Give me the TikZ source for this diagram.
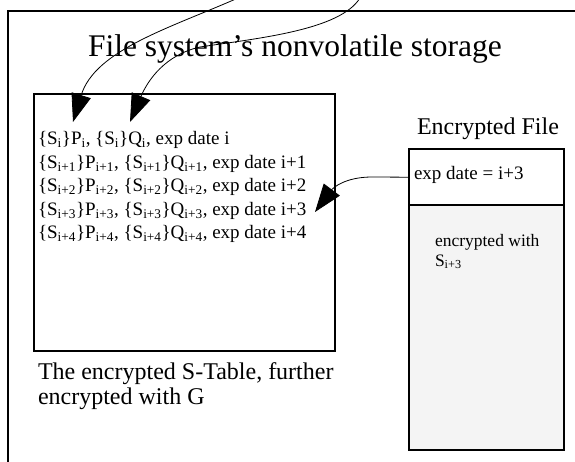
\documentclass[tikz,border=0pt]{standalone}
\usepackage{fontspec}
\setmainfont{Liberation Serif}
\usetikzlibrary{arrows.meta}
\tikzset{
  frame/.style={draw, line width=2pt},
  boxframe/.style={draw, line width=2.4pt, inner sep=0pt},
  lbl/.style={inner sep=0pt, outer sep=0pt},
  big/.style={font=\fontsize{24}{27}\selectfont},
  small/.style={font=\fontsize{19}{23}\selectfont},
  tiny/.style={font=\fontsize{17.5}{20}\selectfont},
  curvy/.style={line width=0.8pt, -{Triangle[length=28pt,width=20pt]}},
}
\definecolor{bodygray}{HTML}{F4F4F4}
\begin{document}
\begin{tikzpicture}[x=1pt,y=-1pt]
\useasboundingbox (0,0) rectangle (575,462);
\clip (0,0) rectangle (575,462);
\fill[white] (0,0) rectangle (575,462);
% outer storage frame
\draw[frame] (8,11) rectangle (600,490);
\node[lbl, font=\fontsize{31.5}{36}\selectfont, anchor=base] (title) at (295,57) {File system’s nonvolatile storage};
% S-table box
\node[boxframe, minimum width=301pt, minimum height=257pt, anchor=north west] (stable) at (33,93) {};
\node[lbl, small, anchor=base west] (t1) at (38,145) {\{S\textsubscript{i}\}P\textsubscript{i}, \{S\textsubscript{i}\}Q\textsubscript{i}, exp date i};
\node[lbl, small, anchor=base west] (t2) at (38,168.5) {\{S\textsubscript{i+1}\}P\textsubscript{i+1}, \{S\textsubscript{i+1}\}Q\textsubscript{i+1}, exp date i+1};
\node[lbl, small, anchor=base west] (t3) at (38,192) {\{S\textsubscript{i+2}\}P\textsubscript{i+2}, \{S\textsubscript{i+2}\}Q\textsubscript{i+2}, exp date i+2};
\node[lbl, small, anchor=base west] (t4) at (38,215.5) {\{S\textsubscript{i+3}\}P\textsubscript{i+3}, \{S\textsubscript{i+3}\}Q\textsubscript{i+3}, exp date i+3};
\node[lbl, small, anchor=base west] (t5) at (38,239) {\{S\textsubscript{i+4}\}P\textsubscript{i+4}, \{S\textsubscript{i+4}\}Q\textsubscript{i+4}, exp date i+4};
\node[lbl, big, anchor=base west] (cap1) at (38,379) {The encrypted S-Table, further};
\node[lbl, big, anchor=base west] (cap2) at (38,404) {encrypted with G};
% encrypted file
\node[lbl, big, anchor=base west] (eftitle) at (417,135) {Encrypted File};
\node[boxframe, fill=bodygray, minimum width=155pt, minimum height=245pt, anchor=north west] (efbody) at (408,204) {};
\node[boxframe, fill=white, minimum width=155pt, minimum height=56pt, anchor=north west] (efhead) at (408,148) {};
\node[lbl, small, anchor=base west] (expd) at (414,180) {exp date = i+3};
\node[lbl, tiny, anchor=base west] (encw1) at (435,247) {encrypted with};
\node[lbl, tiny, anchor=base west] (encw2) at (435,266) {S\textsubscript{i+3}};
% connectors
\coordinate (srcA) at (238,-2);
\coordinate (srcB) at (360,-2);
\coordinate (tipP) at (73,122);
\coordinate (tipQ) at (130,122);
\coordinate (tipR) at (315,212);
\draw[curvy] (srcA) .. controls (170,28) and (95,50) .. (tipP);
\draw[curvy] (srcB) .. controls (340,30) and (260,38) .. (200,47) .. controls (165,55) and (148,80) .. (tipQ);
\draw[curvy] (efhead.west) -- (372,177) .. controls (345,177) and (333,188) .. (tipR);
\end{tikzpicture}
\end{document}
